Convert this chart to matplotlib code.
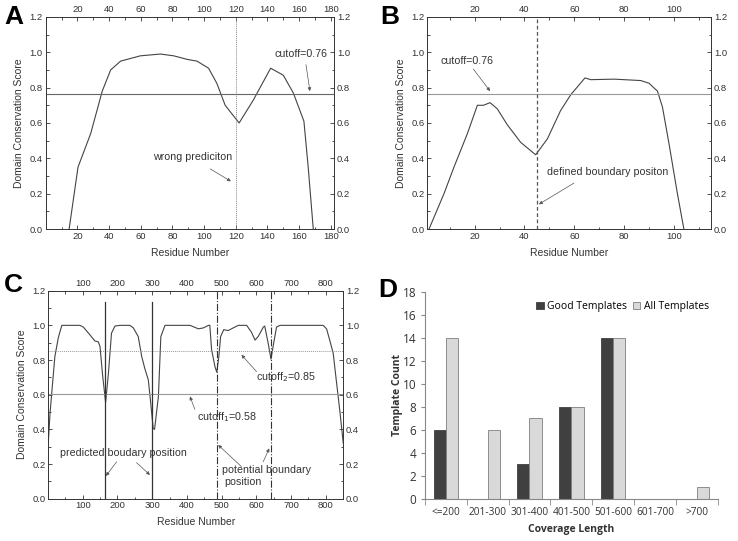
import numpy as np
import matplotlib
matplotlib.use('Agg')
import matplotlib.pyplot as plt
from matplotlib.ticker import MultipleLocator

plt.rcParams['font.family'] = ['Liberation Sans', 'DejaVu Sans']

# panel A: domain conservation score of a 182-residue protein
a_res = [14.8, 20.4, 28.4, 35.7, 41, 47.3, 59.8, 72.4, 80.8, 89.2, 95.5, 102.8, 108,
         113.3, 122.1, 131.1, 142, 150, 156.3, 163, 165.7, 168.9]
a_score = [0.0, 0.35, 0.54, 0.78, 0.90, 0.95, 0.98, 0.99, 0.98, 0.96, 0.95, 0.91, 0.825,
           0.70, 0.60, 0.73, 0.91, 0.87, 0.77, 0.61, 0.35, 0.0]

# panel B
b_res = [1.7, 7.7, 11.7, 17.1, 21.1, 23.5, 26.2, 29.1, 33.1, 38.5, 44.5, 49.2, 54.5,
         58.6, 64.3, 66.6, 76, 86.7, 90, 93.4, 95.4, 98, 101.4, 104]
b_score = [0.0, 0.2, 0.35, 0.54, 0.70, 0.70, 0.715, 0.68, 0.59, 0.49, 0.42, 0.51, 0.67,
           0.76, 0.855, 0.845, 0.848, 0.84, 0.825, 0.78, 0.69, 0.485, 0.2, 0.0]

# panel C
c_res = [1, 6, 11, 20, 30, 40, 92, 102, 121, 135, 145, 150, 157, 166, 174, 183, 193,
         207, 236, 246, 260, 270, 279, 289, 296, 303, 307, 318, 325, 337, 409, 433, 447,
         462, 466, 471, 481, 486, 492, 497, 506, 519, 533, 548, 572, 586, 596, 605, 620,
         624, 634, 642, 648, 658, 668, 792, 802, 811, 821, 831, 840, 850]
c_score = [0.32, 0.49, 0.61, 0.82, 0.93, 1.0, 1.0, 0.99, 0.945, 0.91, 0.905, 0.877, 0.72,
           0.555, 0.72, 0.955, 0.996, 1.0, 1.0, 0.985, 0.935, 0.82, 0.75, 0.685, 0.55,
           0.405, 0.40, 0.59, 0.935, 1.0, 1.0, 0.98, 0.985, 1.0, 1.0, 0.86, 0.76, 0.73,
           0.82, 0.935, 0.975, 0.97, 0.985, 1.0, 1.0, 0.96, 0.915, 0.935, 0.99, 0.996,
           0.896, 0.805, 0.877, 0.99, 1.0, 1.0, 0.98, 0.915, 0.84, 0.665, 0.51, 0.32]

# panel D
d_cats = ['<=200', '201-300', '301-400', '401-500', '501-600', '601-700', '>700']
d_good = [6, 0, 3, 8, 14, 0, 0]
d_all = [14, 6, 7, 8, 14, 0, 1]

txt = '#333333'
fig = plt.figure(figsize=(7.38, 5.41), dpi=100)


def style_score_axes(ax, xlim, xmajor, xminor):
    ax.set_xlim(*xlim)
    ax.set_ylim(0, 1.2)
    ax.xaxis.set_major_locator(MultipleLocator(xmajor))
    ax.xaxis.set_minor_locator(MultipleLocator(xminor))
    ax.yaxis.set_major_locator(MultipleLocator(0.2))
    ax.yaxis.set_minor_locator(MultipleLocator(0.1))
    ax.yaxis.set_major_formatter(plt.FormatStrFormatter('%.1f'))
    ax.tick_params(which='both', direction='in', top=True, right=True,
                   labeltop=True, labelright=True, labelsize=6.8, colors=txt,
                   width=0.6, pad=2)
    ax.tick_params(which='major', length=3)
    ax.tick_params(which='minor', length=1.8)
    for s in ax.spines.values():
        s.set_linewidth(0.7)
        s.set_color('#333333')
    ax.set_xlabel('Residue Number', fontsize=7.5, color=txt, labelpad=5)
    ax.set_ylabel('Domain Conservation Score', fontsize=7.5, color=txt, labelpad=4)


def note(ax, s, xy, xytext, text_xy):
    ax.annotate('', xy=xy, xytext=xytext,
                arrowprops=dict(arrowstyle='-|>', color='#555555', lw=0.5,
                                mutation_scale=5, shrinkA=0, shrinkB=0))
    ax.text(text_xy[0], text_xy[1], s, fontsize=7.7, color=txt, va='center')


# ---- A
axA = fig.add_axes([0.0619, 0.5767, 0.3907, 0.392])
axA.plot(a_res, a_score, color='#444444', lw=0.8)
axA.axhline(0.765, color='#666666', lw=0.8)
axA.axvline(120, color='#888888', lw=0.7, ls=(0, (1, 1)))
style_score_axes(axA, (0, 182), 20, 10)
axA.set_xticks(np.arange(20, 181, 20))
note(axA, 'cutoff=0.76', (166.8, 0.78), (164.3, 0.93), (144.3, 0.99))
note(axA, 'wrong prediciton', (116.9, 0.27), (103.9, 0.34), (67.6, 0.41))

# ---- B
axB = fig.add_axes([0.579, 0.5767, 0.3848, 0.392])
axB.plot(b_res, b_score, color='#444444', lw=0.8)
axB.axhline(0.765, color='#999999', lw=0.8)
axB.axvline(45.2, color='#555555', lw=0.9, ls=(0, (3, 2)))
style_score_axes(axB, (1, 115), 20, 10)
axB.set_xticks(np.arange(20, 101, 20))
note(axB, 'cutoff=0.76', (26.2, 0.78), (19.5, 0.905), (6.3, 0.95))
note(axB, 'defined boundary positon', (45.8, 0.14), (59.9, 0.26), (49.2, 0.32))

# ---- C
axC = fig.add_axes([0.0654, 0.0782, 0.3997, 0.3845])
axC.plot(c_res, c_score, color='#444444', lw=0.8)
axC.axhline(0.602, color='#999999', lw=0.8)
axC.axhline(0.852, color='#999999', lw=0.7, ls=(0, (1, 1)))
for xv in [165, 299]:
    axC.plot([xv, xv], [0, 1.137], color='#333333', lw=0.9)
for xv in [487, 642]:
    axC.axvline(xv, color='#333333', lw=0.8, ls='-.')
style_score_axes(axC, (1, 850), 100, 50)
axC.set_xticks(np.arange(100, 801, 100))
note(axC, 'predicted boudary position', (167, 0.131), (197.8, 0.213), (34.8, 0.265))
note(axC, '', (293.7, 0.137), (255, 0.208), (0, 0))
axC.text(629, 0.165, 'potential boundary', fontsize=7.7, color=txt, ha='center', va='center')
axC.text(560, 0.098, 'position', fontsize=7.7, color=txt, ha='center', va='center')
note(axC, '', (490, 0.31), (557, 0.185), (0, 0))
note(axC, '', (637, 0.29), (619.6, 0.213), (0, 0))
note(axC, 'cutoff$_1$=0.58', (408.7, 0.59), (423, 0.515), (428, 0.473))
note(axC, 'cutoff$_2$=0.85', (557, 0.83), (600.5, 0.733), (600, 0.70))

# ---- D
axD = fig.add_axes([0.5755, 0.0782, 0.3974, 0.3826])
x = np.arange(len(d_cats))
w = 0.29
axD.bar(x - w / 2, d_good, w, color='#404040', edgecolor='#404040', lw=0.6,
        label='Good Templates')
axD.bar(x + w / 2, d_all, w, color='#d9d9d9', edgecolor='#7f7f7f', lw=0.6,
        label='All Templates')
axD.set_xlim(-0.5, len(d_cats) - 0.5)
axD.set_ylim(0, 18)
axD.set_yticks(range(0, 19, 2))
axD.set_xticks(x)
axD.set_xticklabels(d_cats, fontfamily='Open Sans')
axD.set_xticks(np.arange(-0.5, len(d_cats), 1), minor=True)
axD.tick_params(axis='x', which='major', length=0, labelsize=7.3, colors=txt, pad=6)
axD.tick_params(axis='x', which='minor', length=4, direction='out', color='#888888')
axD.tick_params(axis='y', length=3, direction='out', color='#888888', labelsize=8.5,
                colors=txt, pad=3)
for lab in axD.get_yticklabels():
    lab.set_fontfamily('Open Sans')
for s in ['top', 'right']:
    axD.spines[s].set_visible(False)
for s in ['left', 'bottom']:
    axD.spines[s].set_color('#888888')
    axD.spines[s].set_linewidth(0.8)
axD.set_xlabel('Coverage Length', fontsize=7.5, fontweight='bold', fontfamily='Open Sans',
               color=txt)
axD.set_ylabel('Template Count', fontsize=7.5, fontweight='bold', fontfamily='Open Sans',
               color=txt, labelpad=0)
axD.legend(loc='upper right', ncol=2, frameon=False, handlelength=0.7,
           handleheight=0.7, columnspacing=0.6, handletextpad=0.3,
           prop={'family': 'Open Sans', 'size': 7.5}, bbox_to_anchor=(1.0, 1.0))

# panel letters
for s, (px, py) in zip('ABCD', [(4, 17), (380, 17), (4, 285), (378, 290)]):
    fig.text(px / 738, 1 - py / 541, s, fontsize=19, fontweight='bold', va='center',
             ha='left', color='black')

fig.savefig('out.png', dpi=100)
